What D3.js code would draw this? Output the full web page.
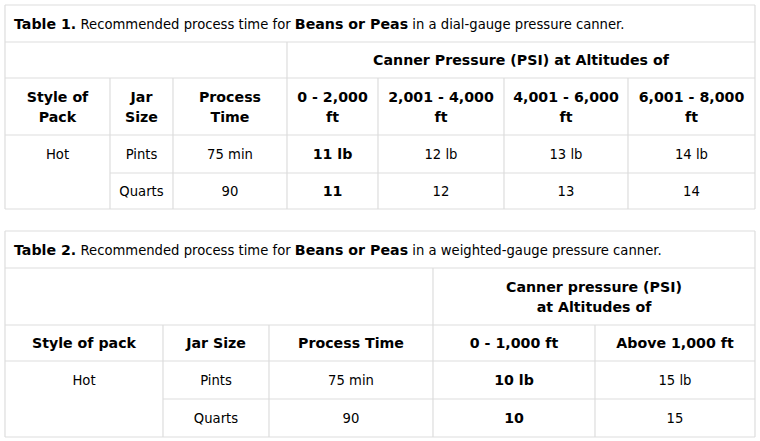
<!DOCTYPE html>
<meta charset="utf-8">
<head><title>Beans or Peas process tables</title></head>
<style>
body{margin:0;background:#fff;}
svg{font-family:Verdana,"DejaVu Sans",sans-serif;font-size:13.2px;}
line{stroke:#ddd;stroke-width:1.2;}
text{fill:#000;}
.b{font-weight:bold;font-size:14.2px;}
</style>
<body>
<svg width="760" height="441"></svg>
<script src="https://cdnjs.cloudflare.com/ajax/libs/d3/7.8.5/d3.min.js"></script>
<script>
// table 1 (dial gauge)
var t1Altitudes = ['0 - 2,000|ft', '2,001 - 4,000|ft', '4,001 - 6,000|ft', '6,001 - 8,000|ft'];
var t1Rows = [
	['Hot', 'Pints', '75 min', '11 lb', '12 lb', '13 lb', '14 lb'],
	['', 'Quarts', '90', '11', '12', '13', '14']
];
// table 2 (weighted gauge)
var t2Altitudes = ['0 - 1,000 ft', 'Above 1,000 ft'];
var t2Rows = [
	['Hot', 'Pints', '75 min', '10 lb', '15 lb'],
	['', 'Quarts', '90', '10', '15']
];

var svg = d3.select('svg');

function drawTable(o){
	var g = svg.append('g');
	var x = o.cols, y = o.rows; // edges
	var L = x[0], R = x[x.length-1];
	// horizontals (the "Hot" cell is merged over the two data rows)
	y.forEach(function(v, i){
		var x0 = (i === y.length-2) ? x[1] : L;
		g.append('line').attr('x1',x0).attr('x2',R).attr('y1',v).attr('y2',v);
	});
	g.append('line').attr('x1',L).attr('x2',L).attr('y1',y[0]).attr('y2',y[y.length-1]);
	g.append('line').attr('x1',R).attr('x2',R).attr('y1',y[0]).attr('y2',y[y.length-1]);
	g.append('line').attr('x1',x[3]).attr('x2',x[3]).attr('y1',y[1]).attr('y2',y[2]);
	x.slice(1,-1).forEach(function(v){
		g.append('line').attr('x1',v).attr('x2',v).attr('y1',y[2]).attr('y2',y[y.length-1]);
	});
	// caption
	var cap = g.append('text').attr('x', L+9).attr('y', (y[0]+y[1])/2+5);
	o.caption.forEach(function(c){ cap.append('tspan').attr('class', c[1] ? 'b' : null).text(c[0]); });
	function cell(txt, x0, x1, y0, y1, bold){
		var parts = txt.split('|'), lh = 20;
		var t = g.append('text').attr('text-anchor','middle').attr('class', bold ? 'b' : null);
		parts.forEach(function(p, i){
			t.append('tspan').attr('x',(x0+x1)/2)
				.attr('y',(y0+y1)/2 + 5 + (i - (parts.length-1)/2)*lh).text(p);
		});
	}
	cell(o.span, x[3], R, y[1], y[2], true);
	o.heads.concat(o.altitudes).forEach(function(h, i){ cell(h, x[i], x[i+1], y[2], y[3], true); });
	o.data.forEach(function(r, ri){
		r.forEach(function(v, ci){
			if (ci === 0) return;
			cell(v, x[ci], x[ci+1], y[3+ri], y[4+ri], ci === 3);
		});
	});
	cell(o.data[0][0], x[0], x[1], y[3], y[4], false);
}

drawTable({
	cols: [5, 110, 173, 287, 378, 504, 628, 755],
	rows: [5, 42, 78, 135, 173, 209],
	caption: [['Table 1.', 1], [' Recommended process time for ', 0], ['Beans or Peas', 1], [' in a dial-gauge pressure canner.', 0]],
	span: 'Canner Pressure (PSI) at Altitudes of',
	heads: ['Style of|Pack', 'Jar|Size', 'Process|Time'],
	altitudes: t1Altitudes,
	data: t1Rows
});
drawTable({
	cols: [5, 163, 269, 433, 595, 755],
	rows: [231, 268, 325, 361, 399, 437],
	caption: [['Table 2.', 1], [' Recommended process time for ', 0], ['Beans or Peas', 1], [' in a weighted-gauge pressure canner.', 0]],
	span: 'Canner pressure (PSI)|at Altitudes of',
	heads: ['Style of pack', 'Jar Size', 'Process Time'],
	altitudes: t2Altitudes,
	data: t2Rows
});
</script>
</body>
</html>
